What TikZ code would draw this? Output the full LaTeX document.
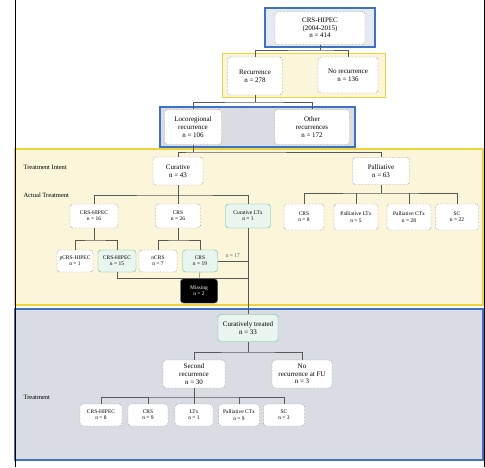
\documentclass[tikz,border=0pt]{standalone}
\usepackage{fontspec}
\setmainfont{Liberation Serif}
\definecolor{ylwline}{HTML}{F2D23C}
\definecolor{ylwfill}{HTML}{FBF5DA}
\definecolor{blueline}{HTML}{3D72C4}
\definecolor{greyfill}{HTML}{D9DCE2}
\definecolor{bluefill}{HTML}{E4E9F2}
\definecolor{grnline}{HTML}{5DBE8C}
\definecolor{grnfill}{HTML}{E9F6EF}

\begin{document}
\begin{tikzpicture}[x=1pt,y=-1pt,
  box/.style={draw=gray!60!black,densely dotted,rounded corners=3pt,fill=white,align=center,inner sep=1pt,font=\fontsize{7}{7.6}\selectfont},
  sbox/.style={box,font=\fontsize{5.5}{6.3}\selectfont},
  gbox/.style={draw=grnline,solid,fill=grnfill},
  link/.style={gray!70!black,line width=.4pt},
  lbl/.style={anchor=west,font=\fontsize{6.5}{7}\selectfont}]
        \useasboundingbox (0,0) rectangle (485,467);
        % frames
        \draw[blueline,fill=bluefill,line width=1.2pt] (265,8) rectangle (375,47);
        \draw[ylwline,fill=ylwfill,line width=1pt] (222,53) rectangle (385,97);
        \draw[blueline,fill=greyfill,line width=1.2pt] (160,107) rectangle (355,147);
        \draw[ylwline,fill=ylwfill,line width=1.2pt] (15,149) rectangle (483,305);
        \draw[blueline,fill=greyfill,line width=1.2pt] (15,309) rectangle (483,460);
        \draw[line width=1pt] (15,0)--(15,467) (484,0)--(484,467);
        % top
        \node[box,minimum width=90pt,minimum height=33pt] (all) at (320,28) {CRS-HIPEC\\(2004-2015)\\n = 414};
        \node[box,minimum width=55pt,minimum height=38pt] (rec) at (255,76) {Recurrence\\n = 278};
        \node[box,minimum width=60pt,minimum height=36pt] (norec) at (348,75) {No recurrence\\n = 136};
        \node[box,minimum width=57pt,minimum height=35pt] (loco) at (193,127) {Locoregional\\recurrence\\n = 106};
        \node[box,minimum width=75pt,minimum height=35pt] (other) at (312,127) {Other\\recurrences\\n = 172};
        % intent
        \node[lbl] (intent) at (20,167) {Treatment Intent};
        \node[lbl] (actual) at (20,195) {Actual Treatment};
        \node[box,minimum width=50pt,minimum height=28pt] (cur) at (178,171) {Curative\\n = 43};
        \node[box,minimum width=57pt,minimum height=27pt] (pal) at (381,171) {Palliative\\n = 63};
        \node[sbox,minimum width=48pt,minimum height=24pt] (hipec) at (94,216) {CRS-HIPEC\\n = 16};
        \node[sbox,minimum width=45pt,minimum height=24pt] (crs) at (178,216) {CRS\\n = 26};
        \node[sbox,gbox,minimum width=45pt,minimum height=24pt] (ltx) at (248,216) {Curative LTx\\n = 1};
        \node[sbox,minimum width=40pt,minimum height=26pt] (pa) at (304,217) {CRS\\n = 8};
        \node[sbox,minimum width=44pt,minimum height=26pt] (pb) at (356,217) {Palliative LTx\\n = 5};
        \node[sbox,minimum width=44pt,minimum height=26pt] (pc) at (409,217) {Palliative CTx\\n = 28};
        \node[sbox,minimum width=43pt,minimum height=26pt] (pd) at (457,217) {SC\\n = 22};
        \node[sbox,minimum width=36pt,minimum height=22pt] (sa) at (75,261) {pCRS-HIPEC\\n = 1};
        \node[sbox,gbox,minimum width=38pt,minimum height=22pt] (sb) at (117,261) {CRS-HIPEC\\n = 15};
        \node[sbox,minimum width=38pt,minimum height=22pt] (sc) at (158,261) {nCRS\\n = 7};
        \node[sbox,gbox,minimum width=35pt,minimum height=22pt] (sd) at (200,261) {CRS\\n = 19};
        \node[sbox,solid,fill=black,text=white,minimum width=37pt,minimum height=24pt] (miss) at (199,291) {Missing\\n = 2};
        % second part
        \node[box,gbox,minimum width=60pt,minimum height=27pt] (curtr) at (248,328) {Curatively treated\\n = 33};
        \node[box,minimum width=62pt,minimum height=28pt] (sec) at (194,374) {Second\\recurrence\\n = 30};
        \node[box,minimum width=60pt,minimum height=28pt] (nosec) at (302,374) {No\\recurrence at FU\\n = 3};
        \node[lbl] (treat) at (20,397) {Treatment};
        \node[sbox,minimum width=42pt,minimum height=22pt] (ta) at (101,415) {CRS-HIPEC\\n = 8};
        \node[sbox,minimum width=40pt,minimum height=22pt] (tb) at (148,415) {CRS\\n = 9};
        \node[sbox,minimum width=38pt,minimum height=22pt] (tc) at (194,415) {LTx\\n = 1};
        \node[sbox,minimum width=41pt,minimum height=22pt] (td) at (239,415) {Palliative CTx\\n = 9};
        \node[sbox,minimum width=41pt,minimum height=22pt] (te) at (284,415) {SC\\n = 3};
        % links
        \draw[link] (all.south)--(all.south|-0,50) (rec.north)|-(all.south|-0,50)-|(norec.north);
        \draw[link] (rec.south)--(rec.south|-0,102) (loco.north)|-(rec.south|-0,102)-|(other.north);
        \draw[link] (loco.south)--(loco.south|-0,152) (cur.north)|-(loco.south|-0,152)-|(pal.north);
        \draw[link] (cur.south)--(crs.north) (hipec.north)|-(crs.north|-0,195)-|(ltx.north);
        \draw[link] (pal.south)--(pal.south|-0,193) (pa.north)|-(pal.south|-0,193)-|(pd.north);
        \draw[link] (pb.north)--(pb.north|-0,193) (pc.north)--(pc.north|-0,193);
        \draw[link] (hipec.south)--(hipec.south|-0,240) (sa.north)|-(hipec.south|-0,240)-|(sb.north);
        \draw[link] (crs.south)--(crs.south|-0,240) (sc.north)|-(crs.south|-0,240)-|(sd.north);
        \draw[link] (sd.south)--(miss.north);
        \draw[link] (sd.east)--node[above,font=\fontsize{5.5}{6}\selectfont]{n = 17}(sd.east-|ltx.south);
        \draw[link] (sb.south)|-(ltx.south|-0,278);
        \draw[link] (ltx.south)--(curtr.north);
        \draw[link] (curtr.south)--(curtr.south|-0,352) (sec.north)|-(curtr.south|-0,352)-|(nosec.north);
        \draw[link] (sec.south)--(tc.north) (ta.north)|-(sec.south|-0,397)-|(te.north);
        \draw[link] (tb.north)--(tb.north|-0,397) (td.north)--(td.north|-0,397);
    \end{tikzpicture}
\end{document}
